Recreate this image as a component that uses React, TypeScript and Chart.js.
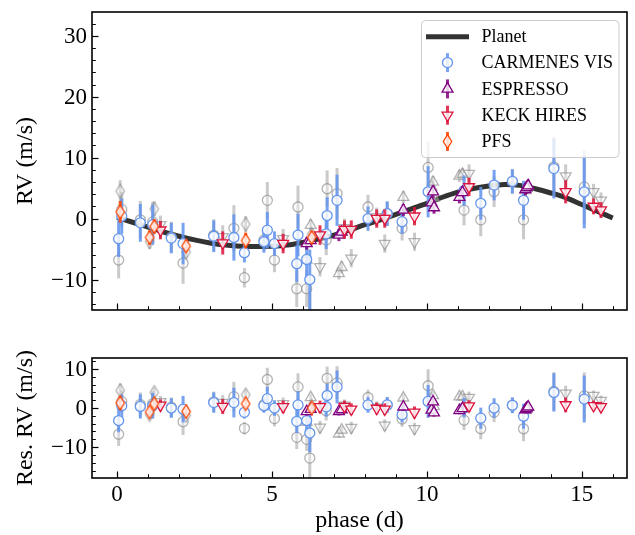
import React, { useEffect, useRef } from "react";
import { Chart, registerables } from "chart.js";

Chart.register(...registerables);

const FONT = '"Liberation Serif", "Times New Roman", serif';

// ---------------- axis setup ----------------
const X_MIN = -0.81;
const X_MAX = 16.46;
const RV_MIN = -15.0;
const RV_MAX = 33.9;
const RES_MIN = -17.9;
const RES_MAX = 12.8;
const xTickLabels = [0, 5, 10, 15];
const rvTickLabels = [-10, 0, 10, 20, 30];
const resTickLabels = [-10, 0, 10];

// ---------------- model curve ----------------
const modelPhase = [0, 0.5, 1, 1.5, 2, 2.5, 3, 3.5, 4, 4.5, 5, 5.5, 6, 6.5, 7, 7.5, 8, 8.5, 9, 9.5, 10, 10.5, 11, 11.5, 12, 12.5, 13, 13.5, 14, 14.5, 15, 15.5, 16];
const modelRV = [0.2, -0.6, -1.4, -2.2, -2.9, -3.5, -4.0, -4.35, -4.55, -4.6, -4.55, -4.35, -3.9, -3.35, -2.7, -1.9, -1.0, -0.2, 0.7, 1.6, 2.5, 3.5, 4.35, 4.95, 5.35, 5.6, 5.45, 4.9, 4.2, 3.4, 2.3, 1.2, 0.1];

// ---------------- CARMENES VIS ----------------
const carPhase = [0.05, 0.15, 0.75, 1.15, 1.75, 2.13, 3.12, 3.77, 4.11, 4.74, 4.85, 5.08, 5.84, 5.8, 6.12, 6.22, 6.78, 6.75, 7.1, 8.1, 8.72, 9.2, 10.04, 11.2, 11.74, 12.17, 12.76, 13.12, 14.1, 15.08];
const carRV = [-3.3, 0.4, -0.7, -1.0, -3.2, -4.1, -2.9, -3.1, -5.6, -3.8, -1.9, -4.1, -2.7, -7.4, -6.7, -10.0, 0.5, -2.5, 3.0, 0.0, 0.8, -0.5, 4.4, 4.6, 2.5, 5.5, 6.1, 3.0, 8.2, 4.4];
const carErr = [3.0, 2.9, 3.1, 3.3, 2.5, 3.4, 2.6, 3.8, 1.6, 1.8, 3.0, 2.0, 3.5, 3.0, 3.0, 4.9, 3.0, 2.5, 4.2, 2.0, 2.0, 2.0, 4.2, 2.5, 2.7, 2.5, 2.0, 3.2, 4.9, 6.0];
const carRaw = [-6.8, 1.5, -0.2, -0.55, -3.0, -7.3, -2.7, -1.6, -9.7, -3.5, 3.0, -6.8, 1.9, -11.5, -11.5, -16.4, 4.9, -3.5, 4.1, 1.9, 0.8, -1.6, 8.4, 1.4, -0.2, 4.4, 6.1, -0.2, 8.5, 5.2];
const carRes = [-3.2, 0.6, 0.4, 0.6, 0.0, -0.3, 1.4, 1.4, -1.1, 0.6, 2.4, 0.0, 0.8, -3.4, -3.2, -6.4, 3.2, 0.3, 5.4, 0.8, 0.8, -1.7, 1.7, 0.1, -2.6, 0.0, 0.7, -2.1, 4.0, 2.3];
const carResRaw = [-6.7, 1.7, 0.9, 1.1, 0.2, -3.5, 1.6, 2.9, -5.2, 0.9, 7.3, -2.7, 5.4, -7.5, -8.0, -12.8, 7.6, -0.7, 6.5, 2.7, 0.8, -2.8, 5.7, -3.1, -5.3, -1.1, 0.7, -5.3, 4.3, 3.1];

// ---------------- ESPRESSO ----------------
const espPhase = [6.12, 6.25, 7.16, 7.25, 9.24, 10.15, 10.2, 10.23, 11.05, 11.15, 13.18, 13.22, 13.27];
const espRV = [-4.1, -3.6, -2.7, -2.2, 1.4, 2.6, 4.4, 1.8, 3.5, 4.3, 4.8, 5.1, 5.4];
const espErr = [1.0, 1.0, 1.0, 1.0, 1.0, 1.0, 1.0, 1.0, 1.0, 1.0, 1.0, 1.0, 1.0];
const espRaw = [-6.8, -1.1, -9.0, -8.0, 3.5, 5.2, 6.0, 3.4, 7.0, 7.3, 4.6, 5.0, 5.3];
const espRes = [-0.9, -0.3, -0.9, -0.4, 0.3, -0.5, 1.6, -1.2, -0.6, -0.1, -0.4, -0.1, 0.3];
const espResRaw = [-3.6, 2.7, -6.6, -5.6, 2.6, 2.1, 3.2, 0.4, 2.9, 2.9, -0.6, -0.2, 0.2];

// ---------------- KECK HIRES ----------------
const keckPhase = [1.4, 3.41, 5.36, 6.55, 7.34, 7.56, 8.38, 8.64, 9.6, 11.36, 14.48, 15.38, 15.62];
const keckRV = [-1.9, -4.0, -4.1, -2.7, -1.8, -1.8, 0.0, 0.0, 0.4, 5.2, 4.4, 2.0, 1.4];
const keckErr = [1.5, 1.9, 1.6, 1.6, 1.5, 1.5, 1.5, 1.5, 1.5, 1.5, 1.9, 1.3, 1.3];
const keckRaw = [-1.0, -3.0, -3.3, -7.9, -1.5, -6.5, 0.3, -4.1, -3.8, 7.4, 7.0, 4.4, 3.0];
const keckRes = [0.7, 0.4, 0.3, 0.3, 0.4, -0.3, -0.1, -0.3, -1.1, 0.5, 0.8, 0.6, 0.3];
const keckResRaw = [1.6, 1.4, 1.1, -4.9, 0.7, -5.0, 0.2, -4.4, -5.3, 2.7, 3.8, 3.2, 1.9];

// ---------------- PFS ----------------
const pfsPhase = [0.1, 1.05, 1.2, 2.23, 4.15, 6.28];
const pfsRV = [1.1, -3.1, -1.3, -4.5, -3.6, -3.1];
const pfsErr = [1.8, 1.2, 1.2, 1.0, 1.3, 1.0];
const pfsRaw = [4.5, -3.8, 1.6, -5.5, -0.9, -2.6];
const pfsRes = [1.3, -1.0, 1.1, -0.9, 1.1, 0.0];
const pfsResRaw = [4.5, -1.7, 4.0, -1.9, 3.4, 0.5];

const legendLabels = ["Planet", "CARMENES VIS", "ESPRESSO", "KECK HIRES", "PFS"];

// ---------------- styles ----------------
const C_CAR = "#6495ED";
const C_ESP = "#800080";
const C_KECK = "#DC143C";
const C_PFS = "#FF4500";
const C_MODEL = "#333333";
const GRAY_EDGE = "rgba(128,128,128,0.6)";
const GRAY_BAR = "rgba(128,128,128,0.42)";
const MARKER_FILL = "rgba(255,255,255,0.82)";
const GRAY_FILL = "rgba(255,255,255,0.35)";

type Kind = "circle" | "up" | "down" | "diamond";

function markerPath(ctx: CanvasRenderingContext2D, kind: Kind, x: number, y: number) {
  ctx.beginPath();
  if (kind === "circle") {
    ctx.arc(x, y, 5, 0, Math.PI * 2);
  } else if (kind === "up") {
    const r = 6.3;
    ctx.moveTo(x, y - r);
    ctx.lineTo(x + r * 0.866, y + r * 0.5);
    ctx.lineTo(x - r * 0.866, y + r * 0.5);
    ctx.closePath();
  } else if (kind === "down") {
    const r = 6.3;
    ctx.moveTo(x, y + r);
    ctx.lineTo(x + r * 0.866, y - r * 0.5);
    ctx.lineTo(x - r * 0.866, y - r * 0.5);
    ctx.closePath();
  } else {
    ctx.moveTo(x, y - 6.8);
    ctx.lineTo(x + 4.2, y);
    ctx.lineTo(x, y + 6.8);
    ctx.lineTo(x - 4.2, y);
    ctx.closePath();
  }
}

function makeDiamond(edge: string, fill: string): HTMLCanvasElement {
  const c = document.createElement("canvas");
  c.width = 12;
  c.height = 17;
  const g = c.getContext("2d")!;
  g.lineWidth = 1.3;
  g.strokeStyle = edge;
  g.fillStyle = fill;
  markerPath(g, "diamond", 6, 8.5);
  g.fill();
  g.stroke();
  return c;
}

function pts(xs: number[], ys: number[]) {
  return xs.map((x, i) => ({ x, y: ys[i] }));
}

function pointDataset(kind: Kind, edge: string, fill: string, xs: number[], ys: number[], errs: number[], barColor: string, order: number, diamondImg?: HTMLCanvasElement) {
  let style: any = "circle";
  let radius = 5;
  let rotation = 0;
  if (kind === "up") { style = "triangle"; radius = 6.3; }
  if (kind === "down") { style = "triangle"; radius = 6.3; rotation = 180; }
  if (kind === "diamond") { style = diamondImg; radius = 6; }
  return {
    type: "scatter",
    data: pts(xs, ys),
    errs,
    barColor,
    order,
    clip: 0,
    showLine: false,
    pointStyle: style,
    pointRadius: radius,
    pointRotation: rotation,
    pointBorderColor: edge,
    pointBackgroundColor: fill,
    pointBorderWidth: 1.3,
    borderColor: edge,
    backgroundColor: fill,
  } as any;
}

const errorBarPlugin = {
  id: "errorBars",
  beforeDatasetDraw(chart: any, args: any) {
    const ds = chart.data.datasets[args.index];
    if (!ds.errs) return;
    const { ctx, chartArea: a } = chart;
    const xs = chart.scales.x;
    const ys = chart.scales.y;
    ctx.save();
    ctx.beginPath();
    ctx.rect(a.left, a.top, a.right - a.left, a.bottom - a.top);
    ctx.clip();
    ctx.strokeStyle = ds.barColor;
    ctx.lineWidth = 3;
    ctx.lineCap = "butt";
    ds.data.forEach((p: any, i: number) => {
      const px = xs.getPixelForValue(p.x);
      ctx.beginPath();
      ctx.moveTo(px, ys.getPixelForValue(p.y - ds.errs[i]));
      ctx.lineTo(px, ys.getPixelForValue(p.y + ds.errs[i]));
      ctx.stroke();
    });
    ctx.restore();
  },
};

function fmt(v: number) {
  return v < 0 ? "\u2212" + Math.abs(v) : String(v);
}

function makeFramePlugin(yLabels: number[], yTitle: string, showX: boolean) {
  return {
    id: "frame",
    afterDraw(chart: any) {
      const { ctx, chartArea: a } = chart;
      const xs = chart.scales.x;
      const ys = chart.scales.y;
      ctx.save();
      ctx.strokeStyle = "#000";
      // x ticks (bottom, inward)
      for (let v = Math.ceil(xs.min); v <= xs.max; v++) {
        const px = Math.round(xs.getPixelForValue(v)) + 0.5;
        const major = v % 5 === 0;
        ctx.lineWidth = major ? 1.2 : 1;
        ctx.beginPath();
        ctx.moveTo(px, a.bottom);
        ctx.lineTo(px, a.bottom - (major ? 6.5 : 3.8));
        ctx.stroke();
      }
      // y ticks (left, inward)
      for (let v = Math.ceil(ys.min / 2) * 2; v <= ys.max; v += 2) {
        const py = Math.round(ys.getPixelForValue(v)) + 0.5;
        const major = v % 10 === 0;
        ctx.lineWidth = major ? 1.2 : 1;
        ctx.beginPath();
        ctx.moveTo(a.left, py);
        ctx.lineTo(a.left + (major ? 6.5 : 3.8), py);
        ctx.stroke();
      }
      // frame
      ctx.lineWidth = 1.6;
      ctx.strokeRect(a.left, a.top, a.right - a.left, a.bottom - a.top);
      // labels
      ctx.fillStyle = "#000";
      ctx.font = `23px ${FONT}`;
      ctx.textAlign = "right";
      ctx.textBaseline = "middle";
      yLabels.forEach((v) => {
        ctx.fillText(fmt(v), a.left - 5, ys.getPixelForValue(v) + 1);
      });
      if (showX) {
        ctx.textAlign = "center";
        ctx.textBaseline = "top";
        xTickLabels.forEach((v) => {
          ctx.fillText(fmt(v), xs.getPixelForValue(v), a.bottom + 5);
        });
        ctx.font = `24px ${FONT}`;
        ctx.textBaseline = "middle";
        ctx.fillText("phase (d)", (a.left + a.right) / 2, a.bottom + 43);
      }
      // y title
      ctx.font = `24px ${FONT}`;
      ctx.translate(26, (a.top + a.bottom) / 2);
      ctx.rotate(-Math.PI / 2);
      ctx.textAlign = "center";
      ctx.textBaseline = "middle";
      ctx.fillText(yTitle, 0, 0);
      ctx.restore();
    },
  };
}

const legendPlugin = {
  id: "customLegend",
  afterDraw(chart: any) {
    const ctx = chart.ctx as CanvasRenderingContext2D;
    const L = 421.5, T = 20.5, R = 619, B = 157.5;
    ctx.save();
    ctx.beginPath();
    const rr = 4;
    ctx.moveTo(L + rr, T);
    ctx.lineTo(R - rr, T);
    ctx.quadraticCurveTo(R, T, R, T + rr);
    ctx.lineTo(R, B - rr);
    ctx.quadraticCurveTo(R, B, R - rr, B);
    ctx.lineTo(L + rr, B);
    ctx.quadraticCurveTo(L, B, L, B - rr);
    ctx.lineTo(L, T + rr);
    ctx.quadraticCurveTo(L, T, L + rr, T);
    ctx.closePath();
    ctx.fillStyle = "rgba(255,255,255,0.8)";
    ctx.fill();
    ctx.strokeStyle = "#cccccc";
    ctx.lineWidth = 1;
    ctx.stroke();

    const rows = [36.7, 62.6, 88.9, 115.2, 141.5];
    const hx = 447.5;
    // planet line
    ctx.strokeStyle = C_MODEL;
    ctx.lineWidth = 5;
    ctx.beginPath();
    ctx.moveTo(426, rows[0]);
    ctx.lineTo(469, rows[0]);
    ctx.stroke();
    const items: [Kind, string][] = [["circle", C_CAR], ["up", C_ESP], ["down", C_KECK], ["diamond", C_PFS]];
    items.forEach(([k, col], i) => {
      const y = rows[i + 1];
      ctx.strokeStyle = col;
      ctx.globalAlpha = 0.85;
      ctx.lineWidth = 3;
      ctx.beginPath();
      ctx.moveTo(hx, y - 9.5);
      ctx.lineTo(hx, y + 9.5);
      ctx.stroke();
      ctx.globalAlpha = 1;
      ctx.lineWidth = 1.3;
      markerPath(ctx, k, hx, y);
      ctx.fillStyle = MARKER_FILL;
      ctx.fill();
      ctx.stroke();
    });
    ctx.fillStyle = "#000";
    ctx.font = `18px ${FONT}`;
    ctx.textAlign = "left";
    ctx.textBaseline = "middle";
    legendLabels.forEach((t, i) => ctx.fillText(t, 481.5, rows[i] + 1));
    ctx.restore();
  },
};

function buildDatasets(useRes: boolean, dPFS: HTMLCanvasElement, dPFSgray: HTMLCanvasElement) {
  const sets: any[] = [];
  const groups: [Kind, string, number[], number[], number[], number[], number[], number[], HTMLCanvasElement | undefined][] = [
    ["circle", C_CAR, carPhase, carRV, carErr, carRaw, carRes, carResRaw, undefined],
    ["up", C_ESP, espPhase, espRV, espErr, espRaw, espRes, espResRaw, undefined],
    ["down", C_KECK, keckPhase, keckRV, keckErr, keckRaw, keckRes, keckResRaw, undefined],
    ["diamond", C_PFS, pfsPhase, pfsRV, pfsErr, pfsRaw, pfsRes, pfsResRaw, dPFS],
  ];
  const barCols = ["rgba(100,149,237,0.88)", "rgba(128,0,128,0.85)", "rgba(220,20,60,0.85)", "rgba(255,69,0,0.85)"];
  groups.forEach((g, gi) => {
    const [kind, col, ph, rv, err, raw, res, resRaw, img] = g;
    sets.push(pointDataset(kind, GRAY_EDGE, GRAY_FILL, ph, useRes ? resRaw : raw, err, GRAY_BAR, 60 - gi, kind === "diamond" ? dPFSgray : undefined));
  });
  groups.forEach((g, gi) => {
    const [kind, col, ph, rv, err, raw, res, resRaw, img] = g;
    sets.push(pointDataset(kind, col, MARKER_FILL, ph, useRes ? res : rv, err, barCols[gi], 20 - gi, img));
  });
  return sets;
}

export default function App() {
  const topRef = useRef<HTMLCanvasElement>(null);
  const botRef = useRef<HTMLCanvasElement>(null);

  useEffect(() => {
    const dPFS = makeDiamond(C_PFS, MARKER_FILL);
    const dPFSgray = makeDiamond(GRAY_EDGE, GRAY_FILL);

    const topSets = buildDatasets(false, dPFS, dPFSgray);
    topSets.push({
      type: "scatter",
      data: pts(modelPhase, modelRV),
      showLine: true,
      borderColor: C_MODEL,
      borderWidth: 5,
      pointRadius: 0,
      tension: 0.3,
      order: 100,
      clip: 0,
    });

    const common = (ymin: number, ymax: number, pad: any) => ({
      animation: false as const,
      responsive: false,
      events: [] as any[],
      layout: { padding: pad },
      scales: {
        x: { type: "linear" as const, min: X_MIN, max: X_MAX, display: false },
        y: { type: "linear" as const, min: ymin, max: ymax, display: false },
      },
      plugins: { legend: { display: false }, tooltip: { enabled: false } },
    });

    const c1 = new Chart(topRef.current!, {
      type: "scatter",
      data: { datasets: topSets },
      options: common(RV_MIN, RV_MAX, { left: 92, right: 8, top: 12, bottom: 25 }) as any,
      plugins: [errorBarPlugin, makeFramePlugin(rvTickLabels, "RV (m/s)", false), legendPlugin],
    });
    const c2 = new Chart(botRef.current!, {
      type: "scatter",
      data: { datasets: buildDatasets(true, dPFS, dPFSgray) },
      options: common(RES_MIN, RES_MAX, { left: 92, right: 8, top: 23, bottom: 57 }) as any,
      plugins: [errorBarPlugin, makeFramePlugin(resTickLabels, "Res. RV (m/s)", true)],
    });
    return () => {
      c1.destroy();
      c2.destroy();
    };
  }, []);

  return (
    <div style={{ position: "absolute", left: 0, top: 0, width: 635, height: 535, background: "#ffffff" }}>
      <canvas ref={topRef} width={635} height={335} style={{ position: "absolute", left: 0, top: 0, width: 635, height: 335 }} />
      <canvas ref={botRef} width={635} height={200} style={{ position: "absolute", left: 0, top: 335, width: 635, height: 200 }} />
    </div>
  );
}
